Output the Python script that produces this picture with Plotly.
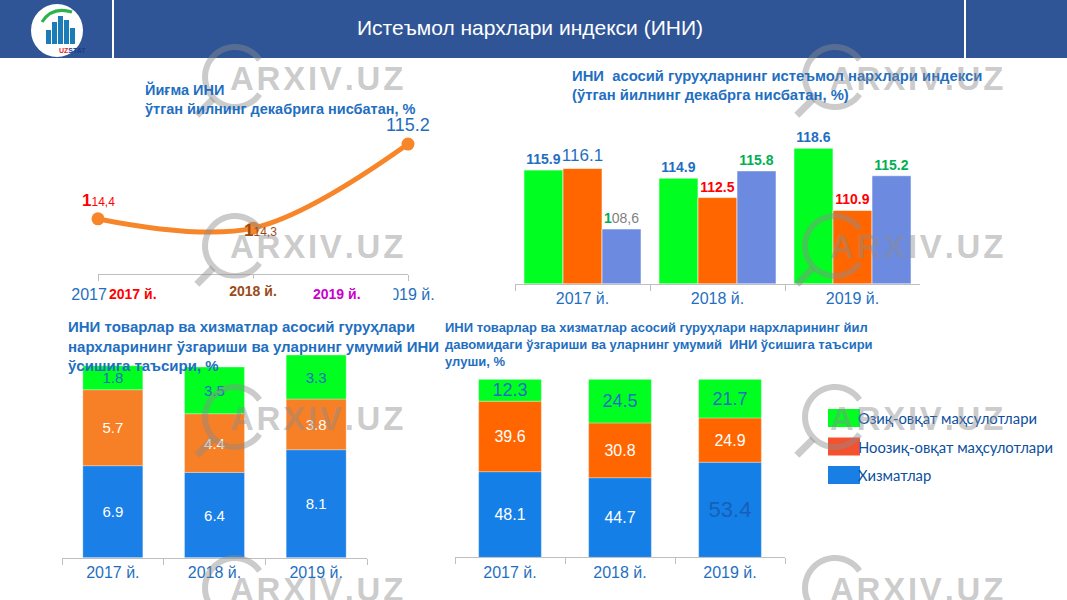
import numpy as np
import plotly.graph_objects as go

W, H = 1067, 600


def px(x):
    return x / W


def py(y):
    return 1 - y / H


BLUE_TXT = '#1F6FC1'
RED = '#FF0000'
GREEN_TXT = '#00B050'
FONT = 'Liberation Sans, Arial, sans-serif'

# ---- data -------------------------------------------------------------
years = ['2017 й.', '2018 й.', '2019 й.']

# cumulative CPI, % to December of previous year
cpi_total = [114.4, 114.3, 115.2]

# CPI by main groups
groups_food = [115.9, 114.9, 118.6]
groups_nonfood = [116.1, 112.5, 110.9]
groups_services = [108.6, 115.8, 115.2]

# contribution to CPI growth, p.p.
contrib_services = [6.9, 6.4, 8.1]
contrib_nonfood = [5.7, 4.4, 3.8]
contrib_food = [1.8, 3.5, 3.3]

# share in CPI growth, %
share_services = [48.1, 44.7, 53.4]
share_nonfood = [39.6, 30.8, 24.9]
share_food = [12.3, 24.5, 21.7]

legend_names = ['Озиқ-овқат маҳсулотлари', 'Ноозиқ-овқат маҳсулотлари', 'Хизматлар']

fig = go.Figure()

# ---- chart 1: line ----------------------------------------------------
xi = list(range(len(years)))
fig.add_trace(go.Scatter(
    x=xi, y=cpi_total, mode='lines+markers',
    line=dict(color='#F7862A', width=5, shape='spline', smoothing=1.0),
    marker=dict(size=13, color='#F7862A'),
    xaxis='x', yaxis='y', cliponaxis=False
))

annotations = []
c1_colors = [RED, '#9C4A1A', BLUE_TXT]
c1_shift = [(0, 18), (7, -2), (0, 19)]
for i, v in enumerate(cpi_total):
    s = f'{v:.1f}'
    if i < 2:
        s = s.replace('.', ',')
        txt = f"<b>{s[0]}</b><span style='font-size:12px'>{s[1:]}</span>"
        size = 17
    else:
        txt = s
        size = 18
    annotations.append(dict(
        x=xi[i], y=v, xref='x', yref='y', text=txt, showarrow=False,
        xshift=c1_shift[i][0], yshift=c1_shift[i][1],
        font=dict(size=size, color=c1_colors[i], family=FONT)
    ))

# ---- chart 2: grouped bars ----------------------------------------------
def bold(v):
    return f'<b>{v}</b>'


food_txt = [bold(v) for v in groups_food]
nonfood_txt = [f'{v}' if i == 0 else bold(v) for i, v in enumerate(groups_nonfood)]
serv_txt = []
for i, v in enumerate(groups_services):
    if i == 0:
        s = f'{v}'.replace('.', ',')
        serv_txt.append(f"<span style='color:{GREEN_TXT}'><b>{s[0]}</b></span>{s[1:]}")
    else:
        serv_txt.append(bold(v))

c2 = [
    (groups_food, '#00FF21', food_txt, [BLUE_TXT] * 3, [14, 14, 14]),
    (groups_nonfood, '#FF6600', nonfood_txt, [BLUE_TXT, RED, RED], [17, 14, 14]),
    (groups_services, '#6B8AE0', serv_txt, ['#7F7F7F', GREEN_TXT, GREEN_TXT], [14, 14, 14]),
]
for vals, col, txt, tcol, tsize in c2:
    fig.add_trace(go.Bar(
        x=years, y=vals, marker=dict(color=col, line=dict(color='rgba(255,255,255,0.7)', width=0.8)),
        text=txt, textposition='outside', textangle=0, constraintext='none',
        textfont=dict(color=tcol, size=tsize, family=FONT), cliponaxis=False,
        xaxis='x2', yaxis='y2'
    ))

# ---- charts 3 and 4: stacked bars ---------------------------------------
stack_colors = ['#1A7FE6', '#F77F26', '#00FF21']
stack_colors4 = ['#157FE8', '#FF6600', '#00FF21']


def add_stack(series, colors, tcolors, tsizes, xa, ya, grp, width):
    base = np.zeros(len(years))
    for vals, col, tc, ts in zip(series, colors, tcolors, tsizes):
        fig.add_trace(go.Bar(
            x=years, y=vals, base=base.copy(), offsetgroup=grp, width=width,
            marker=dict(color=col, line=dict(color='rgba(255,255,255,0.5)', width=0.6)),
            text=[f'{v:.1f}' for v in vals], textposition='inside',
            insidetextanchor='middle', constraintext='none', textangle=0,
            textfont=dict(color=tc, size=ts, family=FONT),
            xaxis=xa, yaxis=ya
        ))
        base = base + np.array(vals)


add_stack([contrib_services, contrib_nonfood, contrib_food], stack_colors,
          ['white', 'white', BLUE_TXT], [15, 15, 15], 'x3', 'y3', 'c3', 0.59)
add_stack([share_services, share_nonfood, share_food], stack_colors4,
          [['white', 'white', '#1560B8'], 'white', BLUE_TXT], [[16, 16, 22], 16, 18],
          'x4', 'y4', 'c4', 0.57)

# ---- titles -------------------------------------------------------------
def title(x, y, text, size):
    annotations.append(dict(
        x=px(x), y=py(y), xref='paper', yref='paper', xanchor='left', yanchor='top',
        text=text, showarrow=False, align='left',
        font=dict(size=size, color=BLUE_TXT, family=FONT)
    ))


title(143, 79, '<b>Йиғма ИНИ<br>ўтган йилнинг декабрига нисбатан, %</b>', 14.5)
title(570, 66, '<b>ИНИ  асосий гуруҳларнинг истеъмол нархлари индекси<br>'
               '(ўтган йилнинг декабрга нисбатан, %)</b>', 14.8)
title(66, 316, '<b>ИНИ товарлар ва хизматлар асосий гуруҳлари<br>'
               'нархларининг ўзгариши ва уларнинг умумий ИНИ<br>'
               'ўсишига таъсири, %</b>', 15)
title(443, 318, '<b>ИНИ товарлар ва хизматлар асосий гуруҳлари нархларининг йил<br>'
                'давомидаги ўзгариши ва уларнинг умумий  ИНИ ўсишига таъсири<br>'
                'улуши, %</b>', 13)

# overlay year labels of chart 1
for x0, w, txt, col, yy in [(108, 74, '2017 й.', RED, 294),
                            (222, 60, '2018 й.', '#9C4A1A', 291),
                            (312, 80, '2019 й.', '#CC00CC', 294)]:
    annotations.append(dict(
        x=px(x0), y=py(yy), xref='paper', yref='paper', xanchor='left', yanchor='middle',
        text=f'<b>{txt}</b>', showarrow=False, width=w, height=24,
        align='left' if x0 != 222 else 'center', bgcolor='white', borderpad=0,
        font=dict(size=14, color=col, family=FONT)
    ))

# ---- header -------------------------------------------------------------
shapes = [
    dict(type='rect', xref='paper', yref='paper', x0=0, x1=1, y0=py(58), y1=1,
         fillcolor='#2F5597', line=dict(width=0), layer='below'),
    dict(type='line', xref='paper', yref='paper', x0=px(113), x1=px(113), y0=py(58), y1=1,
         line=dict(color='white', width=2)),
    dict(type='line', xref='paper', yref='paper', x0=px(965), x1=px(965), y0=py(58), y1=1,
         line=dict(color='white', width=2)),
    dict(type='circle', xref='paper', yref='paper', x0=px(31), x1=px(83), y0=py(57), y1=py(4),
         fillcolor='white', line=dict(width=0)),
]
for bx, top in [(46, 30), (52, 22), (58, 16), (64, 20), (70, 28)]:
    shapes.append(dict(type='rect', xref='paper', yref='paper', x0=px(bx), x1=px(bx + 5),
                       y0=py(44), y1=py(top), fillcolor='#1B7CB8', line=dict(width=0)))
shapes.append(dict(type='path', xref='paper', yref='paper',
                   path=f'M {px(42)},{py(22)} Q {px(52)},{py(6)} {px(72)},{py(12)}',
                   line=dict(color='#2DB34A', width=3)))
annotations.append(dict(x=px(57), y=py(50), xref='paper', yref='paper', showarrow=False,
                        yanchor='middle',
                        text="<b><span style='color:#E31E24'>UZ</span>STAT</b>",
                        font=dict(size=7, color='#1B3E8A', family=FONT)))
annotations.append(dict(x=px(530), y=py(28), xref='paper', yref='paper', showarrow=False,
                        yanchor='middle',
                        text='Истеъмол нархлари индекси (ИНИ)',
                        font=dict(size=21, color='white', family=FONT)))

# ---- legend -------------------------------------------------------------
leg_cols = ['#00FF21', '#F5512C', '#1A7FE5']
for i, (nm, col) in enumerate(zip(legend_names, leg_cols)):
    yc = 418 + i * 28.5
    shapes.append(dict(type='rect', xref='paper', yref='paper', x0=px(828), x1=px(860),
                       y0=py(yc + 9), y1=py(yc - 9), fillcolor=col, line=dict(width=0)))
    annotations.append(dict(x=px(856), y=py(yc), xref='paper', yref='paper', xanchor='left',
                            yanchor='middle', showarrow=False, text=nm,
                            font=dict(size=14.8, color='#0B4F9E', family='Lato, sans-serif')))

# ---- watermark ------------------------------------------------------------
WM = 'rgba(140,140,140,0.45)'


def ring_path(cx, cy, r=30, a0=35, a1=325):
    ang = np.radians(np.linspace(a0, a1, 40))
    pts = [(px(cx + r * np.cos(a)), py(cy - r * np.sin(a))) for a in ang]
    return 'M ' + ' L '.join(f'{x:.5f},{y:.5f}' for x, y in pts)


for col_x in (230, 830):
    for row_y in (78, 247, 418, 589):
        cx, cy = col_x + 5, row_y - 1
        shapes.append(dict(type='path', xref='paper', yref='paper', path=ring_path(cx, cy),
                           line=dict(color=WM, width=6), layer='above'))
        d = 0.7071
        shapes.append(dict(type='line', xref='paper', yref='paper',
                           x0=px(cx - 31 * d), y0=py(cy + 31 * d),
                           x1=px(cx - 54 * d), y1=py(cy + 54 * d),
                           line=dict(color=WM, width=7), layer='above'))
        annotations.append(dict(x=px(col_x - 2), y=py(row_y), xref='paper', yref='paper',
                                xanchor='left', yanchor='middle', showarrow=False,
                                text='<b>A\u200aR\u200aX\u200aI\u200aV\u200a.\u200aU\u200aZ</b>',
                                font=dict(size=33, color=WM, family=FONT)))

# ---- axes -----------------------------------------------------------------
xcommon = dict(showline=True, linecolor='#BFBFBF', linewidth=1, ticks='outside', ticklen=6,
               tickcolor='#BFBFBF', tickfont=dict(size=16, color=BLUE_TXT, family=FONT),
               showgrid=False, zeroline=False, fixedrange=True, automargin=False)
ycommon = dict(visible=False, showgrid=False, zeroline=False, fixedrange=True, automargin=False)

fig.update_layout(
    template='none',
    width=W, height=H, margin=dict(l=0, r=0, t=0, b=0, pad=0), autosize=False,
    paper_bgcolor='white', plot_bgcolor='rgba(0,0,0,0)',
    showlegend=False, barmode='group', bargap=0.133, bargroupgap=0,
    font=dict(family=FONT),
    xaxis=dict(domain=[px(98), px(408)], range=[0, 2], tickvals=xi, ticktext=years,
               anchor='y', **xcommon),
    yaxis=dict(domain=[py(274), py(130)], range=[113.81, 115.35], anchor='x', **ycommon),
    xaxis2=dict(domain=[px(515), px(920)], type='category', tickson='boundaries',
                anchor='y2', **xcommon),
    yaxis2=dict(domain=[py(283.5), py(140)], range=[101.85, 119.63], anchor='x2', **ycommon),
    xaxis3=dict(domain=[px(62), px(367)], type='category', tickson='boundaries',
                anchor='y3', **xcommon),
    yaxis3=dict(domain=[py(557.7), py(344)], range=[0, 16.03], anchor='x3', **ycommon),
    xaxis4=dict(domain=[px(455), px(785)], type='category', tickson='boundaries',
                anchor='y4', **xcommon),
    yaxis4=dict(domain=[py(557.3), py(379.3)], range=[0, 100], anchor='x4', **ycommon),
    annotations=annotations,
    shapes=shapes,
)

fig.write_html('out.html', config={'responsive': False, 'displayModeBar': False},
               post_script="document.body.style.margin='0';document.body.style.overflow='hidden';")
